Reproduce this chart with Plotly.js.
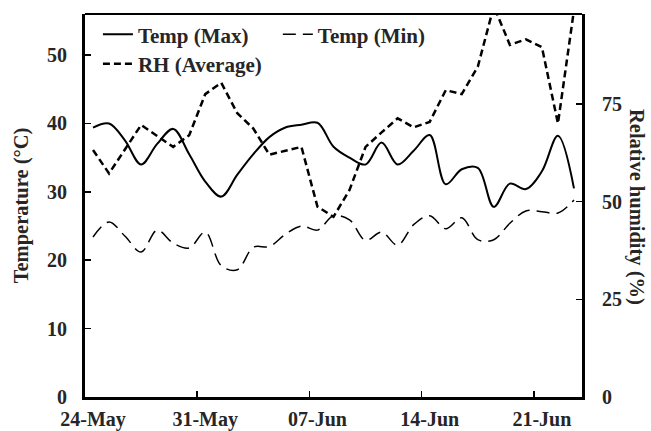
<!DOCTYPE html>
<html><head><meta charset="utf-8">
<script src="https://cdn.plot.ly/plotly-3.0.1.min.js"></script>
<style>html,body{margin:0;padding:0;background:#fff}#chart{width:651px;height:431px}</style>
</head><body><div id="chart"></div>
<script>
const dates = ['2019-05-24','2019-05-25','2019-05-26','2019-05-27','2019-05-28','2019-05-29','2019-05-30','2019-05-31',
  '2019-06-01','2019-06-02','2019-06-03','2019-06-04','2019-06-05','2019-06-06','2019-06-07','2019-06-08','2019-06-09',
  '2019-06-10','2019-06-11','2019-06-12','2019-06-13','2019-06-14','2019-06-15','2019-06-16','2019-06-17','2019-06-18',
  '2019-06-19','2019-06-20','2019-06-21','2019-06-22','2019-06-23'];
const tempMax = [39.4, 40.0, 37.5, 34.0, 37.0, 39.2, 35.5, 31.5, 29.3, 32.5, 35.5, 38.0, 39.4, 39.8, 40.1, 36.6,
  35.0, 34.0, 37.2, 34.0, 36.0, 38.3, 31.1, 33.3, 33.5, 27.8, 31.2, 30.4, 33.0, 38.2, 30.5];
const tempMin = [23.4, 25.6, 23.5, 21.2, 24.4, 22.5, 21.8, 24.1, 19.2, 18.6, 21.9, 22.0, 23.8, 25.0, 24.4, 26.5,
  25.9, 22.9, 24.1, 22.2, 25.2, 26.5, 24.6, 26.2, 23.0, 23.0, 25.4, 27.2, 27.1, 26.9, 28.8];
const rhAvg = [63.2, 57.2, 63.4, 69.6, 66.8, 64.0, 67.0, 77.5, 80.4, 72.6, 68.7, 62.0, 63.0, 64.0, 48.7, 46.1,
  53.0, 64.0, 67.7, 71.3, 69.0, 70.4, 78.5, 77.5, 84.5, 100, 90.1, 91.5, 89.5, 70.0, 99];
const xTicks = ['2019-05-24','2019-05-31','2019-06-07','2019-06-14','2019-06-21'];
const leftTicks = [0, 10, 20, 30, 40, 50];
const rightTicks = [0, 25, 50, 75];

const FONT = 'Liberation Serif, Times New Roman, serif';
const TXT = '#262626';
const DAY = 86400000;

const traces = [
  {x: dates, y: tempMax, name: 'Temp (Max)', type: 'scatter', mode: 'lines', legend: 'legend',
   xperiod: DAY, xperiodalignment: 'middle',
   line: {color: '#000', width: 2, shape: 'spline', smoothing: 1}},
  {x: dates, y: tempMin, name: 'Temp (Min)', type: 'scatter', mode: 'lines', legend: 'legend2',
   xperiod: DAY, xperiodalignment: 'middle',
   line: {color: '#000', width: 1.5, shape: 'spline', smoothing: 1, dash: '13px,7px'}},
  {x: dates, y: rhAvg, name: 'RH (Average)', type: 'scatter', mode: 'lines', legend: 'legend3', yaxis: 'y2',
   xperiod: DAY, xperiodalignment: 'middle',
   line: {color: '#000', width: 2.5, dash: '7px,4px'}}
];

const tickFont = {family: FONT, size: 20, color: TXT, weight: 700};
const legFont = {family: FONT, size: 21, color: TXT, weight: 700};
const titleFont = {family: FONT, size: 20.5, color: TXT, weight: 700};

const layout = {
  width: 651, height: 431,
  margin: {l: 85, r: 69, t: 14, b: 34, pad: 0},
  paper_bgcolor: '#fff', plot_bgcolor: '#fff',
  showlegend: true,
  xaxis: {type: 'date', range: ['2019-05-24', '2019-06-24'], tickvals: xTicks, tickformat: '%d-%b',
    ticks: 'inside', ticklen: 6, tickwidth: 1.5, tickcolor: '#000',
    showline: true, linewidth: 3, linecolor: '#000', showgrid: false, zeroline: false,
    tickfont: tickFont, ticklabelshift: 8, ticklabelstandoff: 2},
  yaxis: {range: [0, 56], tickvals: leftTicks, ticks: 'inside', ticklen: 6, tickwidth: 1.5, tickcolor: '#000',
    showline: true, linewidth: 3, linecolor: '#000', showgrid: false, zeroline: false,
    tickfont: tickFont, ticklabelstandoff: 11,
    title: {text: 'Temperature (°C)', font: titleFont, standoff: 13}},
  yaxis2: {range: [0, 98], overlaying: 'y', side: 'right', tickvals: rightTicks, ticks: 'inside', ticklen: 6,
    tickwidth: 1.5, tickcolor: '#000',
    showline: true, linewidth: 3, linecolor: '#000', showgrid: false, zeroline: false,
    tickfont: tickFont, ticklabelstandoff: 13},
  legend: {x: 0.026, y: 0.946, xanchor: 'left', yanchor: 'middle', bgcolor: 'rgba(0,0,0,0)', font: legFont, itemwidth: 30},
  legend2: {x: 0.388, y: 0.946, xanchor: 'left', yanchor: 'middle', bgcolor: 'rgba(0,0,0,0)', font: legFont, itemwidth: 30},
  legend3: {x: 0.026, y: 0.869, xanchor: 'left', yanchor: 'middle', bgcolor: 'rgba(0,0,0,0)', font: legFont, itemwidth: 30},
  annotations: [{text: 'Relative humidity (%)', xref: 'paper', yref: 'paper', x: 1.1107, y: 0.496,
    xanchor: 'center', yanchor: 'middle', textangle: 90, showarrow: false, font: titleFont}],
  shapes: [{type: 'line', xref: 'paper', yref: 'paper', x0: 0, x1: 1, y0: 1, y1: 1, line: {color: '#000', width: 2}}]
};

Plotly.newPlot('chart', traces, layout, {displayModeBar: false, staticPlot: true});
</script>
</body></html>
